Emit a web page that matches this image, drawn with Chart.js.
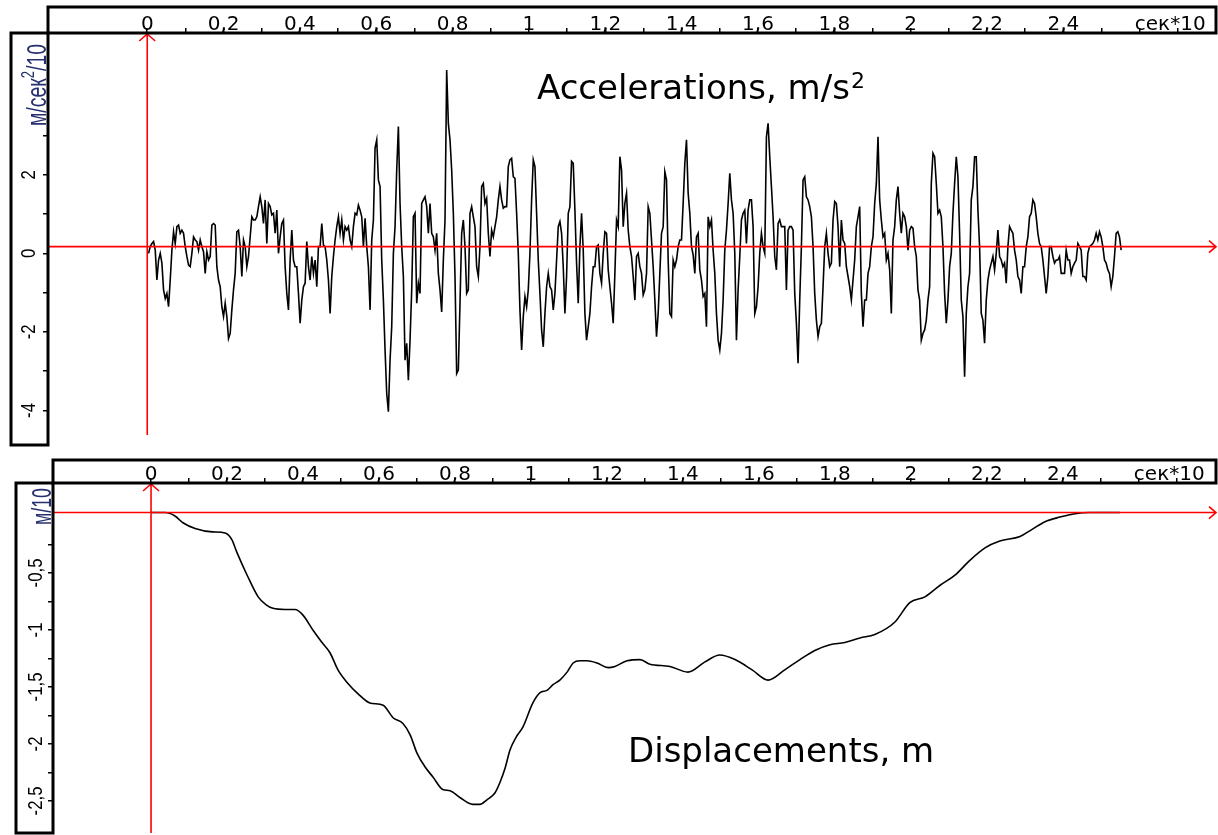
<!DOCTYPE html>
<html>
<head>
<meta charset="utf-8">
<script src="https://cdn.jsdelivr.net/npm/chart.js@4.4.1/dist/chart.umd.min.js"></script>
<style>
  html, body { margin: 0; padding: 0; background: #fff; }
  #wrap { position: relative; width: 1218px; height: 835px; overflow: hidden; }
  canvas { position: absolute; left: 0; }
  #accCanvas { top: 0; }
  #dispCanvas { top: 450px; }
</style>
</head>
<body>
<div id="wrap">
  <canvas id="accCanvas" width="1218" height="450"></canvas>
  <canvas id="dispCanvas" width="1218" height="385"></canvas>
</div>
<script>
// time axis, сек*10
const timeTicks = [0, 0.1, 0.2, 0.3, 0.4, 0.5, 0.6, 0.7, 0.8, 0.9, 1, 1.1, 1.2, 1.3,
                   1.4, 1.5, 1.6, 1.7, 1.8, 1.9, 2, 2.1, 2.2, 2.3, 2.4, 2.5, 2.6, 2.7];
const timeLabelValues = [0, 0.2, 0.4, 0.6, 0.8, 1, 1.2, 1.4, 1.6, 1.8, 2, 2.2, 2.4];
const timeLabels = ['0', '0,2', '0,4', '0,6', '0,8', '1', '1,2', '1,4', '1,6', '1,8', '2', '2,2', '2,4'];
const timeUnit = 'сек*10';
const timeUnitAt = 2.68;

// accelerogram, fixed sampling step (сек*10)
const accStart = 0.0035;
const accStep = 0.004363;
const accValues = [
  // 0 .. 0.66
  0, 0.17, 0.25, 0.30, 0.08, -0.68, -0.17, 0, -0.25, -0.93,
  -1.15, -1.02, -1.36, -0.68, 0.08, 0.55, 0.25, 0.68, 0.72, 0.51,
  0.59, 0.51, 0.17, -0.08, -0.30, -0.34, 0, 0.42, 0.34, 0.30,
  0.08, 0.34, 0.17, 0.04, -0.51, 0.04, -0.17, -0.08, 0.72, 0.76,
  0.72, -0.34, -0.68, -0.85, -1.36, -1.61, -1.27, -1.61, -2.17, -2.04,
  -1.44, -0.93, -0.51, 0.55, 0.59, 0.17, -0.59, 0.34, 0.17, -0.34,
  -0.08, 0.42, 0.93, 0.85, 0.85, 0.93, 1.19, 1.44, 1.19, 0.76,
  1.36, 0.25, 1.27, 1.19, 0.98, 1.02, 0.51, 1.10, 0, 0.42,
  0.76, 0.85, -0.34, -1.02, -1.44, -0.17, 0.59, -0.17, -0.34, -0.34,
  -1.02, -1.78, -1.19, -0.85, -0.76, 0.30, -0.34, -0.68, -0.08, -0.51,
  -0.17, -0.85, 0.17, 0.17, 0.76, 0.21, 0.17, -0.17, -0.68, -1.53,
  -0.59, -0.08, 0.34, 0.68, 0.93, 0.51, 0.85, 0.34, 0.68, 0.59,
  0.68, 0.34, 0.17, 0.68, 1.02, 0.98, 1.23, 1.10, 0.93, 0.17,
  0.89, 0.17, -0.34, -1.44, 0.34, 0.85, 2.68, 2.89, 1.87, 1.70,
  -0.17, -1.19, -2.46, -3.57, -4.03, -2.72, -1.87, 0, 0.68, 2.12,
  3.23,
  // 0.66 .. 1.34
  1.27, 0.17, -0.59, -2.72, -2.29, -3.23, -2.21, -0.93, 0.93, 1.02,
  -1.27, -0.76, -1.02, 1.27, 1.36, 1.44, 1.19, 0.51, 1.27, 0.51,
  0.42, 0.08, 0.51, -0.51, -0.93, -1.49, -0.17, 0.85, 4.67, 3.31,
  2.89, 2.12, 1.02, -0.59, -3.06, -2.97, -1.27, 0.51, 0.85, 0.17,
  -1.02, -0.93, 1.02, 1.19, 0.93, 0.68, -0.34, -0.59, 0.17, 1.70,
  1.78, 1.27, 1.40, 0.51, -0.08, 0.59, 0.42, 0.68, 0.93, 1.36,
  1.70, 1.36, 1.15, 1.19, 1.19, 2.21, 2.38, 2.42, 1.95, 1.91,
  1.02, 0, -1.44, -2.46, -1.61, -1.10, -1.36, -0.93, 0, 1.36,
  2.38, 2.21, 1.02, -0.17, -1.02, -1.95, -2.38, -1.53, -0.85, -0.51,
  -0.85, -0.93, -1.44, -1.02, -0.17, 0.68, 0.81, 0.51, -0.34, -1.53,
  -0.59, 1.02, 1.19, 2.34, 2.29, 1.10, -0.25, -1.27, 0.17, 1.02,
  0.08, -1.53, -2.21, -1.87, -1.53, -0.85, -0.34, -0.34, 0.17, 0.21,
  -0.51, -0.76, 0, 0.55, 0.51, -0.42, -0.85, -1.27, -1.78, -0.51,
  0.85, 0.68, 2.46, 2.12, 0.68, 1.27, 1.53, 0.59, 0.17, -0.08,
  -0.59, -1.19, -0.08, 0, -0.34, -0.51, -1.06, -0.93, -0.51, 1.19,
  1.02, 0.34, -0.34, -1.19, -2.12, -1.53,
  // 1.34 .. 2.02
  -0.51, 0.51, 0.68, 2.08, 1.87, -0.17, -1.53, -1.61, -0.17, -0.34,
  -0.17, 0.17, 0.34, 0.34, 1.27, 2.29, 2.89, 1.53, 1.02, 0.17,
  -0.04, -0.51, 0.42, 0.51, -0.42, -0.68, -1.10, -1.02, -1.87, 0.93,
  0.68, 0.85, 0.08, -0.51, -1.53, -2.21, -2.46, -2.04, -1.19, 0.08,
  0.59, 1.27, 2.04, 1.36, 1.02, 0, -2.21, -0.93, -0.08, 0.85,
  1.02, 1.10, 0.25, 1.10, 1.36, 1.36, 0.68, -1.53, -1.36, -0.85,
  0, 0.51, 0.17, 0, 2.97, 3.31, 2.46, 1.70, 0.93, -0.08,
  -0.42, 0.76, 0.85, 0.68, 0.68, 0.68, -0.93, 0.59, 0.68, 0.68,
  0.59, -1.02, -1.78, -2.80, -1.19, 0.17, 1.87, 1.95, 1.44, 1.36,
  1.19, 0.93, 0.17, -1.02, -1.70, -2.12, -1.87, -1.78, -0.85, 0.17,
  0.51, 0, -0.34, -0.25, 0.85, 1.32, 1.27, 0.68, -0.34, 0.85,
  0.34, 0.25, -0.34, -0.59, -0.85, -1.19, -0.68, -0.17, 0.68, 0.93,
  1.19, -1.02, -1.87, -1.19, -1.19, -0.51, -0.34, 0.17, 0.42, 1.27,
  1.78, 2.97, 1.36, 0.85, 0.42, 0.51, -0.17, 0, -0.42, -1.53,
  0.34, 0.68, 1.36, 1.70, 1.02, 0.51, 1.02, 0.93, 0.68, 0.08,
  0.59, 0.68, 0.64, 0.17, -0.08, -0.93,
  // 2.02 .. 2.55
  -1.19, -2.21, -2.04, -1.95, -1.70, -1.19, -0.85, 1.78, 2.55, 2.46,
  1.78, 1.02, 1.10, 0.93, 0.17, -1.02, -1.78, -1.19, -0.34, 0,
  1.02, 1.78, 2.46, 1.95, 0.51, -1.19, -1.61, -3.14, -1.53, -0.85,
  -0.51, 1.36, 1.70, 2.46, 2.46, 1.10, 0.17, -1.53, -1.70, -2.29,
  -1.19, -0.68, -0.42, -0.25, -0.08, -0.42, 0, 0.59, -0.08, -0.17,
  -0.34, -0.25, -0.76, 0.17, 0.68, 0.59, 0.51, 0.08, -0.17, -0.59,
  -0.68, -1.02, -0.34, -0.34, 0.17, 0.42, 0.93, 1.02, 1.36, 1.27,
  0.93, 0.51, 0.25, 0.17, -0.17, -0.59, -1.02, -0.59, 0.17, 0.17,
  -0.08, -0.25, -0.17, -0.17, -0.08, -0.51, -0.51, -0.51, 0.08, -0.17,
  -0.17, -0.51, -0.34, -0.25, -0.17, 0.25, 0.17, 0.08, -0.59, -0.59,
  -0.68, 0, 0.17, 0.21, 0.25, 0.34, 0.51, 0.34, 0.55, 0.42,
  0.17, -0.17, -0.25, -0.42, -0.51, -0.85, -0.59, -0.08, 0.51, 0.55,
  0.42, 0.08
];
const accTicks = [-4, -3, -2, -1, 0, 1, 2, 3];
const accLabelValues = [-4, -2, 0, 2];
const accLabels = ['-4', '-2', '0', '2'];
const accAxisLevel = 0.17;

// displacements, м/10
const dispTime = [
  0, 0.037, 0.063, 0.084, 0.116, 0.161, 0.195, 0.213, 0.226, 0.253,
  0.282, 0.303, 0.321, 0.353, 0.379, 0.400, 0.426, 0.450, 0.471, 0.492,
  0.516, 0.545, 0.576, 0.611, 0.637, 0.663, 0.682, 0.700, 0.721, 0.742,
  0.768, 0.787, 0.813, 0.847, 0.866, 0.884, 0.905, 0.918, 0.932, 0.945,
  0.961, 0.979, 1.005, 1.024, 1.042, 1.058, 1.076, 1.095, 1.111, 1.129,
  1.147, 1.174, 1.203, 1.221, 1.253, 1.287, 1.313, 1.366, 1.413, 1.458,
  1.497, 1.537, 1.582, 1.624, 1.668, 1.708, 1.747, 1.787, 1.826, 1.866,
  1.905, 1.958, 1.997, 2.037, 2.076, 2.116, 2.155, 2.195, 2.234, 2.287,
  2.318, 2.353, 2.392, 2.432, 2.471, 2.55
];
const dispValues = [
  0.03, 0.03, 0, -0.06, -0.11, -0.14, -0.15, -0.21, -0.32, -0.52,
  -0.71, -0.78, -0.81, -0.82, -0.82, -0.87, -1.00, -1.11, -1.20, -1.35,
  -1.46, -1.56, -1.64, -1.66, -1.77, -1.82, -1.92, -2.08, -2.20, -2.29,
  -2.40, -2.41, -2.47, -2.53, -2.53, -2.49, -2.43, -2.34, -2.21, -2.05,
  -1.94, -1.85, -1.64, -1.55, -1.53, -1.48, -1.44, -1.37, -1.29, -1.27,
  -1.27, -1.29, -1.33, -1.32, -1.27, -1.26, -1.30, -1.32, -1.37, -1.28,
  -1.22, -1.26, -1.35, -1.44, -1.35, -1.26, -1.18, -1.13, -1.11, -1.07,
  -1.04, -0.93, -0.76, -0.71, -0.61, -0.52, -0.39, -0.28, -0.22, -0.18,
  -0.12, -0.05, -0.01, 0.02, 0.03, 0.03
];
const dispTicks = [-2.5, -2.25, -2, -1.75, -1.5, -1.25, -1, -0.75, -0.5, -0.25];
const dispLabelValues = [-2.5, -2, -1.5, -1, -0.5];
const dispLabels = ['-2,5', '-2', '-1,5', '-1', '-0,5'];
const dispAxisLevel = 0.03;

const narrowFont = '"Liberation Sans", Arial, sans-serif';
const timeFont = '20px "DejaVu Sans", sans-serif';
const unitColor = '#26306e';

// rotated text, squeezed along its own direction like a narrow face
function upText(ctx, text, x, y, squeeze) {
  ctx.save();
  ctx.translate(x, y);
  ctx.rotate(-Math.PI / 2);
  ctx.scale(squeeze, 1);
  ctx.fillText(text, 0, 0);
  ctx.restore();
}

// red axes, boxed scales, labels and the caption of a panel
function panelPlugin(p) {
  return {
    id: 'panel',
    afterDraw(chart) {
      const ctx = chart.ctx;
      const xs = chart.scales.x, ys = chart.scales.y;
      const area = chart.chartArea;
      ctx.save();

      const x0 = xs.getPixelForValue(0);
      const yAx = ys.getPixelForValue(p.axisLevel);
      ctx.strokeStyle = '#ff0000';
      ctx.lineWidth = 1.6;
      ctx.beginPath();
      ctx.moveTo(area.left, yAx);
      ctx.lineTo(area.right, yAx);
      ctx.moveTo(area.right - 7, yAx - 6);
      ctx.lineTo(area.right, yAx);
      ctx.lineTo(area.right - 7, yAx + 6);
      ctx.moveTo(x0, area.bottom - p.axisGap);
      ctx.lineTo(x0, area.top + 1);
      ctx.moveTo(x0 - 8, area.top + 8);
      ctx.lineTo(x0, area.top + 1);
      ctx.lineTo(x0 + 8, area.top + 8);
      ctx.stroke();

      ctx.strokeStyle = '#000';
      ctx.lineWidth = 3;
      ctx.strokeRect(xs.left, xs.top, xs.right - xs.left, xs.bottom - xs.top);
      ctx.strokeRect(ys.left, ys.top, ys.right - ys.left, ys.bottom - ys.top);

      // time labels
      ctx.fillStyle = '#000';
      ctx.font = timeFont;
      ctx.textAlign = 'center';
      ctx.textBaseline = 'alphabetic';
      timeLabelValues.forEach((v, i) => {
        ctx.fillText(timeLabels[i], xs.getPixelForValue(v), xs.bottom - 3.5);
      });
      ctx.fillText(timeUnit, xs.getPixelForValue(timeUnitAt), xs.bottom - 3.5);

      // value labels, written upwards
      ctx.font = '21px ' + narrowFont;
      p.labelValues.forEach((v, i) => {
        upText(ctx, p.labels[i], p.labelX, ys.getPixelForValue(v), 0.8);
      });

      // unit of the value axis
      ctx.save();
      ctx.fillStyle = unitColor;
      ctx.translate(p.unitX, ys.top + p.unitLen);
      ctx.rotate(-Math.PI / 2);
      ctx.scale(p.unitSqueeze, 1);
      ctx.textAlign = 'left';
      let off = 0;
      p.unit.forEach(part => {
        ctx.font = (part.sup ? '18px ' : '27px ') + narrowFont;
        ctx.fillText(part.text, off, part.sup ? -12 : 0);
        off += ctx.measureText(part.text).width;
      });
      ctx.restore();

      // caption
      ctx.fillStyle = '#000';
      ctx.textAlign = 'left';
      ctx.font = '34px "DejaVu Sans", sans-serif';
      ctx.fillText(p.caption, p.capX, p.capY);
      if (p.capSup) {
        const w = ctx.measureText(p.caption).width;
        ctx.font = '22px "DejaVu Sans", sans-serif';
        ctx.fillText(p.capSup, p.capX + w + 1, p.capY - 11);
      }
      ctx.restore();
    }
  };
}

function scaleTicks(values) {
  return scale => { scale.ticks = values.map(v => ({ value: v })); };
}

const markStyle = { drawOnChartArea: false, drawTicks: true, tickLength: 5, color: '#000', lineWidth: 1.5 };

function makePanel(id, points, o) {
  return new Chart(document.getElementById(id), {
    type: 'line',
    data: {
      datasets: [{
        data: points,
        borderColor: '#000',
        borderWidth: o.lineWidth,
        pointRadius: 0,
        tension: 0,
        cubicInterpolationMode: o.smooth ? 'monotone' : 'default',
        fill: false
      }]
    },
    options: {
      responsive: false,
      animation: false,
      devicePixelRatio: 1,
      parsing: false,
      layout: { padding: o.padding },
      plugins: { legend: { display: false }, tooltip: { enabled: false } },
      scales: {
        x: {
          type: 'linear', position: 'top', min: o.xMin, max: o.xMax,
          afterBuildTicks: scaleTicks(timeTicks),
          afterFit: s => { s.height = o.xBox; },
          ticks: { display: false },
          grid: markStyle,
          border: { display: false }
        },
        y: {
          type: 'linear', position: 'left', min: o.yMin, max: o.yMax,
          afterBuildTicks: scaleTicks(o.yTicks),
          afterFit: s => { s.width = o.yBox; },
          ticks: { display: false },
          grid: markStyle,
          border: { display: false }
        }
      }
    },
    plugins: [panelPlugin(o.panel)]
  });
}

const accPoints = accValues.map((v, i) => ({ x: accStart + i * accStep, y: v }));
const dispPoints = dispValues.map((v, i) => ({ x: dispTime[i], y: v }));

makePanel('accCanvas', accPoints, {
  lineWidth: 1.6,
  padding: { top: 7, left: 11, right: 2, bottom: 5 },
  xMin: -0.26, xMax: 2.8, xBox: 26,
  yMin: -4.88, yMax: 5.61, yBox: 37, yTicks: accTicks,
  panel: {
    axisLevel: accAxisLevel, axisGap: 10,
    labelValues: accLabelValues, labels: accLabels, labelX: 35,
    unit: [{ text: 'м/сек' }, { text: '2', sup: true }, { text: '/10' }],
    unitX: 46, unitLen: 93, unitSqueeze: 0.72,
    caption: 'Accelerations, m/s', capSup: '2', capX: 537, capY: 99
  }
});

makePanel('dispCanvas', dispPoints, {
  lineWidth: 1.6,
  smooth: true,
  padding: { top: 10, left: 16, right: 2, bottom: 2 },
  xMin: -0.258, xMax: 2.803, xBox: 23,
  yMin: -2.781, yMax: 0.289, yBox: 37, yTicks: dispTicks,
  panel: {
    axisLevel: dispAxisLevel, axisGap: 0,
    labelValues: dispLabelValues, labels: dispLabels, labelX: 42,
    unit: [{ text: 'м/10' }],
    unitX: 51, unitLen: 42, unitSqueeze: 0.66,
    caption: 'Displacements, m', capX: 628, capY: 312
  }
});
</script>
</body>
</html>
